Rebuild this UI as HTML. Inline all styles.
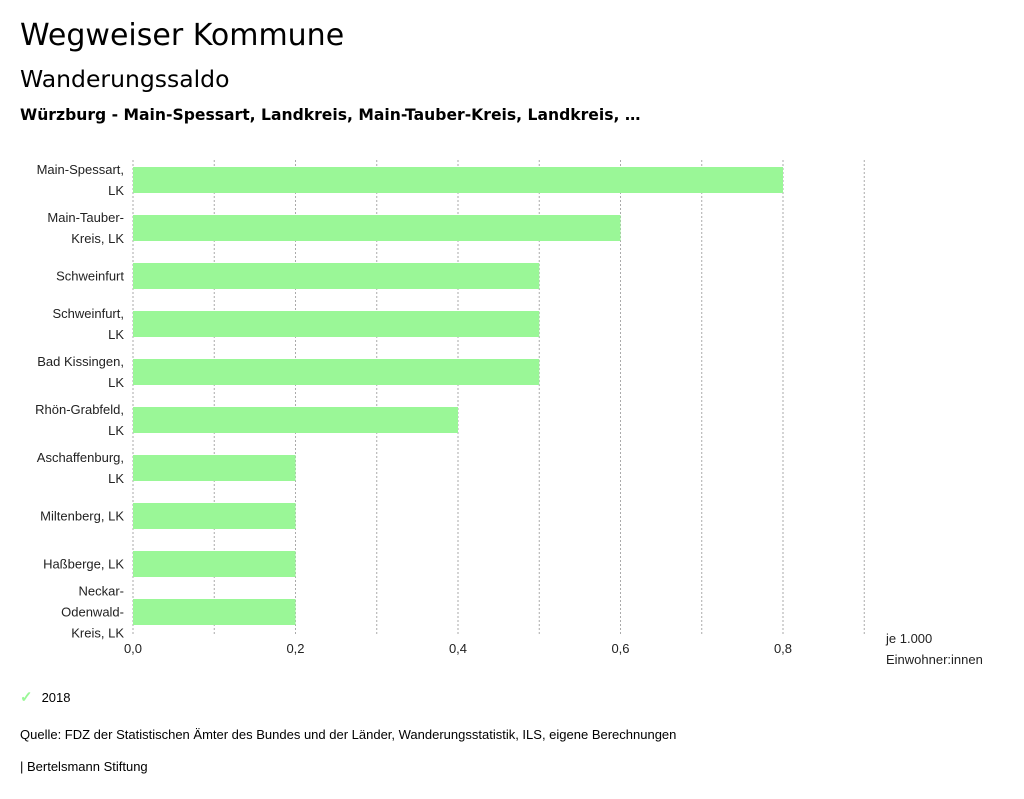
<!DOCTYPE html>
<html><head><meta charset="utf-8"><style>
body{margin:0;width:1024px;height:799px;background:#fff;font-family:"DejaVu Sans","Liberation Sans",sans-serif;color:#000;overflow:hidden}
.t{position:absolute;white-space:nowrap}
</style></head><body>
<div class="t" style="left:20px;top:18px;font-size:30px">Wegweiser Kommune</div>
<div class="t" style="left:20px;top:65px;font-size:23.5px">Wanderungssaldo</div>
<div class="t" style="left:20px;top:106px;font-size:15.6px;font-weight:bold">Würzburg - Main-Spessart, Landkreis, Main-Tauber-Kreis, Landkreis, …</div>
<svg id="c" width="1024" height="799" style="position:absolute;left:0;top:0" font-family="Liberation Sans, DejaVu Sans, sans-serif" font-size="13"></svg>
<div class="t" style="left:20px;top:688px;font-size:13px;font-family:'Liberation Sans',sans-serif"><span style="color:#9af797;font-size:15px;font-weight:bold">✓</span><span style="margin-left:9px">2018</span></div>
<div class="t" style="left:20px;top:727px;font-size:13px;font-family:'Liberation Sans',sans-serif">Quelle: FDZ der Statistischen Ämter des Bundes und der Länder, Wanderungsstatistik, ILS, eigene Berechnungen</div>
<div class="t" style="left:20px;top:759px;font-size:13px;font-family:'Liberation Sans',sans-serif">| Bertelsmann Stiftung</div>
<script>
const categories=[["Main-Spessart,","LK"],["Main-Tauber-","Kreis, LK"],["Schweinfurt"],["Schweinfurt,","LK"],["Bad Kissingen,","LK"],["Rhön-Grabfeld,","LK"],["Aschaffenburg,","LK"],["Miltenberg, LK"],["Haßberge, LK"],["Neckar-","Odenwald-","Kreis, LK"]];
const values=[0.8,0.6,0.5,0.5,0.5,0.4,0.2,0.2,0.2,0.2];
const tickValues=[0,0.2,0.4,0.6,0.8];
const tickLabels=["0,0","0,2","0,4","0,6","0,8"];
const gridValues=[0,0.1,0.2,0.3,0.4,0.5,0.6,0.7,0.8,0.9];
const svg=document.getElementById('c'),NS="http://www.w3.org/2000/svg";
const x=v=>133+v*812.5, y=i=>167+i*48, bh=26;
function mk(t,a){const e=document.createElementNS(NS,t);for(const k in a)e.setAttribute(k,a[k]);svg.appendChild(e);return e;}
gridValues.forEach(v=>{
 const l=mk('line',{x1:x(v),x2:x(v),y1:160,y2:636,stroke:'#aaa','stroke-dasharray':'2,2','stroke-width':1});
 
 
});
values.forEach((v,i)=>{
 const r=mk('rect',{x:x(0),y:y(i),width:x(v)-x(0),height:bh,fill:'#9af797'});
 
 
 const lines=categories[i],lh=21,cy=y(i)+bh/2;
 lines.forEach((s,j)=>{
  const t=mk('text',{x:124,y:cy+(j-(lines.length-1)/2)*lh+4.5,'text-anchor':'end',fill:'#222'});
  t.textContent=s;
  
  
 });
});
tickValues.forEach((v,i)=>{
 const t=mk('text',{x:x(v),y:653,'text-anchor':'middle',fill:'#222'});
 t.textContent=tickLabels[i];
 
 
});
["je 1.000","Einwohner:innen"].forEach((s,j)=>{
 const t=mk('text',{x:886,y:643+j*21,fill:'#222'});
 t.textContent=s;
 
 
});
</script>
</body></html>
